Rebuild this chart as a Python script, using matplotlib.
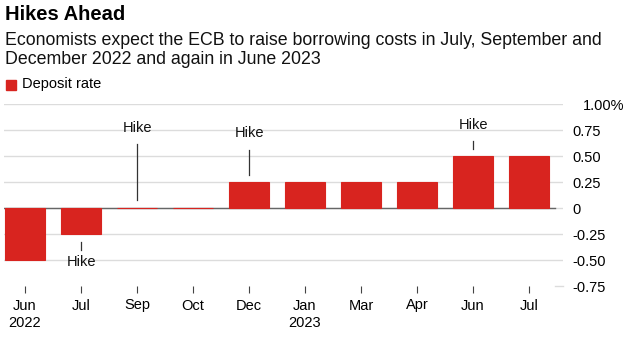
import matplotlib.pyplot as plt
from matplotlib.transforms import offset_copy

plt.rcParams['font.family'] = ['Liberation Sans', 'DejaVu Sans']

# data
months = ['Jun\n2022', 'Jul', 'Sep', 'Oct', 'Dec', 'Jan\n2023', 'Mar', 'Apr', 'Jun', 'Jul']
deposit_rate = [-0.5, -0.25, 0.0, 0.0, 0.25, 0.25, 0.25, 0.25, 0.5, 0.5]
y_ticks = [1.0, 0.75, 0.5, 0.25, 0, -0.25, -0.5, -0.75]
y_labels = ['1.00%', '0.75', '0.50', '0.25', '0', '-0.25', '-0.50', '-0.75']
# hike annotations: bar index, text y, line start, line end
hike_idx = [2, 4, 1, 8]
hike_text_y = [0.77, 0.72, -0.52, 0.80]
hike_line = [(0.62, 0.08), (0.56, 0.32), (-0.33, -0.40), (0.64, 0.57)]

red = '#d8241f'
W, H = 631, 350
fig = plt.figure(figsize=(6.31, 3.5), dpi=100)
ax = fig.add_axes([4 / W, (H - 286) / H, (563 - 4) / W, 182 / H])

x = list(range(len(months)))
ax.bar(x, deposit_rate, width=0.7, color=red, edgecolor=red, linewidth=0.8, zorder=3)
ax.set_xlim(-0.375, 9.607)
ax.set_ylim(-0.75, 1.0)

# gridlines
for t in y_ticks:
    if t == -0.75:
        ax.plot([9.46, 9.607], [t, t], color='#dcdcdc', lw=1, clip_on=False, zorder=1)
    elif t == 0:
        ax.axhline(0, color='#dcdcdc', lw=1, zorder=1)
        ax.plot([-0.375, 9.46], [0, 0], color='#666666', lw=1, zorder=2)
    else:
        ax.axhline(t, color='#dcdcdc', lw=1, zorder=1)

for s in ax.spines.values():
    s.set_visible(False)

ax.set_xticks(x)
ax.set_xticklabels(months, fontsize=10.5, linespacing=1.3)
ax.tick_params(axis='x', length=5, width=0.8, color='#444444', pad=4, direction='out')

ax.yaxis.tick_right()
ax.set_yticks(y_ticks)
ax.set_yticklabels(y_labels, fontsize=10.5)
ax.tick_params(axis='y', length=0, pad=7)
for lab, t in zip(ax.get_yticklabels(), y_ticks):
    lab.set_horizontalalignment('left')
    if t == 1.0:
        lab.set_transform(offset_copy(lab.get_transform(), fig=fig, x=10, y=0, units='dots'))

# hike annotations
for i, ty, (l0, l1) in zip(hike_idx, hike_text_y, hike_line):
    ax.plot([i, i], [l0, l1], color='#333333', lw=0.9, zorder=4)
    ax.text(i, ty, 'Hike', ha='center', va='center', fontsize=10.5, color='#111111')

# title, subtitle, legend
fig.text(5 / W, 1 - 14 / H, 'Hikes Ahead', fontsize=14.5, fontweight='bold', va='center')
fig.text(5 / W, 1 - 50 / H,
         'Economists expect the ECB to raise borrowing costs in July, September and\n'
         'December 2022 and again in June 2023',
         fontsize=12.8, va='center', linespacing=1.22, color='#111111')
fig.patches.append(plt.Rectangle((6 / W, 1 - 90 / H), 10 / W, 10 / H, color=red,
                                 transform=fig.transFigure, figure=fig))
fig.text(22 / W, 1 - 84 / H, 'Deposit rate', fontsize=10.5, va='center')

fig.savefig('out.png', dpi=100)
